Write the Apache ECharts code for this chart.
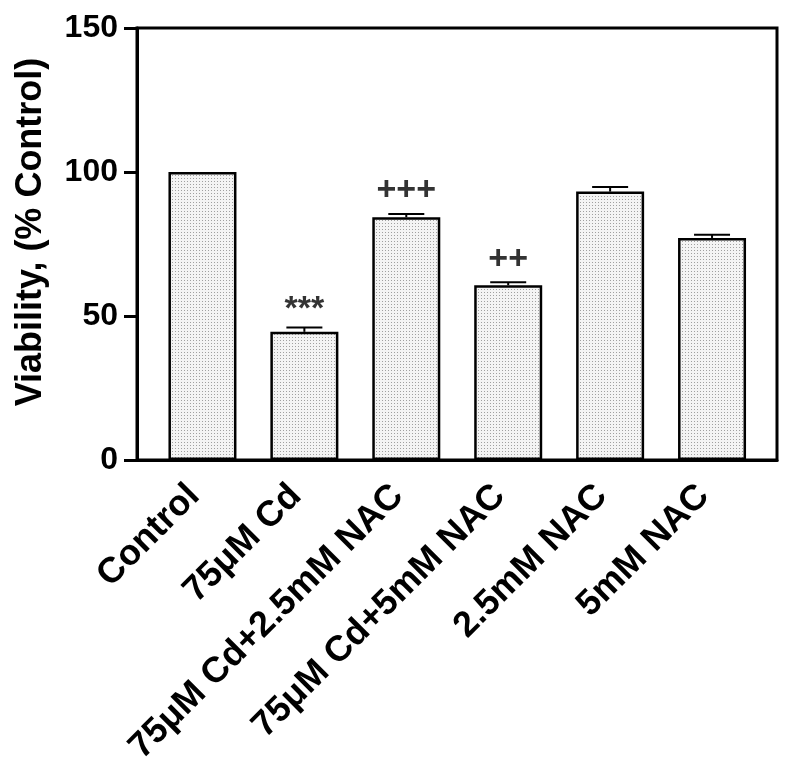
<!DOCTYPE html>
<html>
<head>
<meta charset="utf-8">
<script src="https://cdn.jsdelivr.net/npm/echarts@6/dist/echarts.min.js"></script>
<style>html,body{margin:0;padding:0;background:#fff}#c{width:800px;height:778px}</style>
</head>
<body>
<div id="c"></div>
<script>
const categories = ['Control', '75\u03bcM Cd', '75\u03bcM Cd+2.5mM NAC', '75\u03bcM Cd+5mM NAC', '2.5mM NAC', '5mM NAC'];
const viability = [100, 44.5, 84.3, 60.7, 93.2, 77.1];
const sem = [0, 1.5, 1.1, 1.0, 1.6, 1.1];
const marks = ['', '***', '+++', '++', '', ''];
const yTicks = [0, 50, 100, 150];

const FONT = '"Liberation Sans", Arial, Helvetica, sans-serif';

// dotted fill pattern
const pc = document.createElement('canvas');
pc.width = 3; pc.height = 3;
const pctx = pc.getContext('2d');
pctx.fillStyle = '#f4f4f4'; pctx.fillRect(0, 0, 3, 3);
pctx.fillStyle = '#a0a0a0'; pctx.fillRect(1, 1, 1, 1);

const chart = echarts.init(document.getElementById('c'), null, {renderer: 'canvas'});

const errData = categories.map((c, i) => [i, viability[i], sem[i]]);
const markData = categories.map((c, i) => ({
  value: [i, viability[i] + sem[i]],
  label: {formatter: marks[i], offset: marks[i].indexOf('*') >= 0 ? [0, 5] : [0, 0]}
}));

chart.setOption({
  animation: false,
  backgroundColor: '#fff',
  grid: [
    {left: 137, right: 23, top: 28, bottom: 318, show: true, borderColor: '#000', borderWidth: 3, backgroundColor: 'transparent'},
    {left: 151.5, right: 37, top: 28, bottom: 318}
  ],
  xAxis: [
    {gridIndex: 0, type: 'category', data: [''], axisLine: {lineStyle: {color: '#000', width: 3}}, axisTick: {show: false}, axisLabel: {show: false}},
    {gridIndex: 1, type: 'category', data: categories, axisLine: {show: false}, axisTick: {show: false},
     axisLabel: {interval: 0, rotate: 45, margin: 22, padding: [0, 12, 0, 0], fontSize: 36, fontWeight: 'bold', color: '#000', fontFamily: FONT}}
  ],
  yAxis: [
    {gridIndex: 0, type: 'value', min: yTicks[0], max: yTicks[yTicks.length - 1], interval: 50,
     axisLine: {show: true, lineStyle: {color: '#000', width: 3}},
     axisTick: {show: true, inside: false, length: 13, lineStyle: {color: '#000', width: 3}},
     axisLabel: {fontSize: 32, fontWeight: 'bold', color: '#000', fontFamily: FONT, margin: 19},
     splitLine: {show: false},
     name: 'Viability, (% Control)', nameLocation: 'middle', nameGap: 88, nameRotate: 90,
     nameTextStyle: {fontSize: 36, fontWeight: 'bold', color: '#000', fontFamily: FONT, padding: [0, 0, 0, 24]}},
    {gridIndex: 1, type: 'value', min: yTicks[0], max: yTicks[yTicks.length - 1], interval: 50, show: false}
  ],
  series: [
    {type: 'bar', xAxisIndex: 1, yAxisIndex: 1, data: viability, barWidth: 68,
     itemStyle: {color: {image: pc, repeat: 'repeat'}, borderColor: '#000', borderWidth: 2.5}},
    {type: 'custom', xAxisIndex: 1, yAxisIndex: 1, data: errData, z: 5,
     renderItem: function (params, api) {
       const i = api.value(0), v = api.value(1), e = api.value(2);
       if (!e) return null;
       const p0 = api.coord([i, v]);
       const p1 = api.coord([i, v + e]);
       const hw = 18;
       return {type: 'group', children: [
         {type: 'line', shape: {x1: p0[0], y1: p0[1], x2: p1[0], y2: p1[1]}, style: {stroke: '#000', lineWidth: 2}},
         {type: 'line', shape: {x1: p1[0] - hw, y1: p1[1], x2: p1[0] + hw, y2: p1[1]}, style: {stroke: '#000', lineWidth: 2}}
       ]};
     }},
    {type: 'scatter', xAxisIndex: 1, yAxisIndex: 1, data: markData, symbolSize: 0, z: 6,
     label: {show: true, position: 'top', distance: 6, fontSize: 34, fontWeight: 'bold', color: '#000', fontFamily: FONT}}
  ]
});
</script>
</body>
</html>
